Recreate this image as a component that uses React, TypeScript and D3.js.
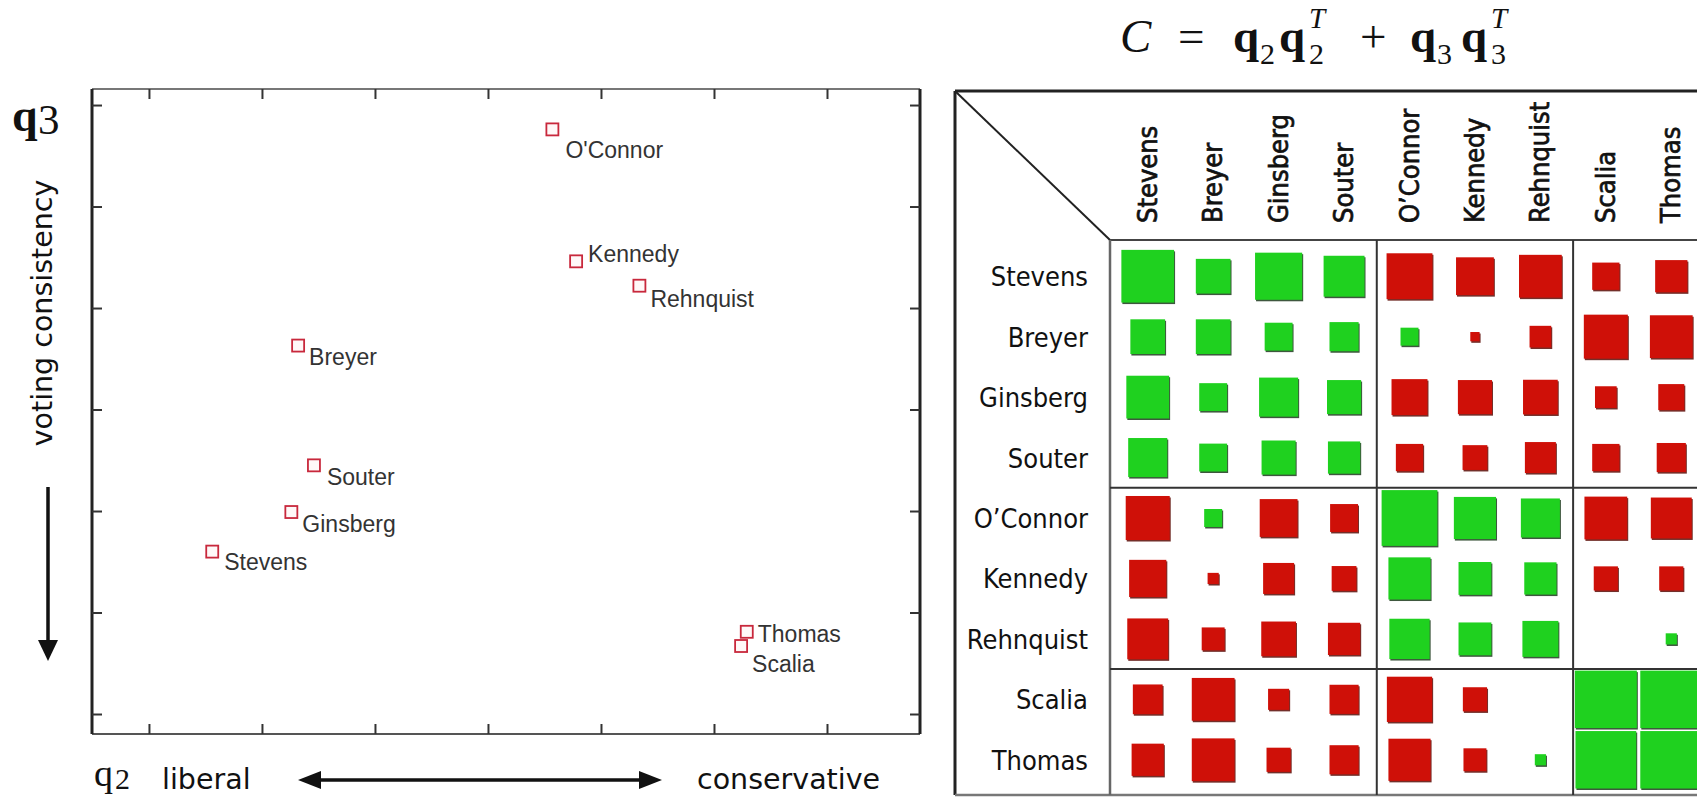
import React, { useEffect, useRef } from 'react'
import * as d3 from 'd3'

// justices as they appear in the scatter plot
const scatterNames = ['Stevens', 'Breyer', 'Ginsberg', 'Souter', "O'Connor", 'Kennedy', 'Rehnquist', 'Scalia', 'Thomas']
// coordinates on the two eigenvectors
const q2Values = [-0.244, -0.168, -0.174, -0.154, 0.057, 0.078, 0.134, 0.224, 0.229]
const q3Values = [-0.140, 0.063, -0.101, -0.055, 0.276, 0.146, 0.122, -0.233, -0.219]

const xTicks = [-0.3, -0.2, -0.1, 0, 0.1, 0.2, 0.3]
const yTicks = [-0.3, -0.2, -0.1, 0, 0.1, 0.2, 0.3]

// matrix order and block boundaries (liberal | swing | conservative)
const matrixNames = ['Stevens', 'Breyer', 'Ginsberg', 'Souter', 'O\u2019Connor', 'Kennedy', 'Rehnquist', 'Scalia', 'Thomas']
const groupStarts = [4, 7]

// C = q2 q2^T + q3 q3^T  (sign -> colour, magnitude -> square size)
const cValues = [
  [0.85, 0.56, 0.76, 0.66, -0.74, -0.61, -0.69, -0.44, -0.52],
  [0.56, 0.56, 0.45, 0.47, 0.29, -0.15, -0.35, -0.71, -0.69],
  [0.69, 0.45, 0.63, 0.55, -0.58, -0.55, -0.56, -0.35, -0.42],
  [0.63, 0.45, 0.55, 0.52, -0.44, -0.40, -0.50, -0.44, -0.47],
  [-0.71, 0.29, -0.61, -0.45, 0.90, 0.68, 0.63, -0.69, -0.66],
  [-0.60, -0.18, -0.50, -0.40, 0.68, 0.53, 0.52, -0.39, -0.39],
  [-0.66, -0.37, -0.56, -0.52, 0.65, 0.53, 0.58, 0, 0.18],
  [-0.48, -0.69, -0.34, -0.47, -0.73, -0.39, 0, 1.0, 1.0],
  [-0.52, -0.69, -0.39, -0.47, -0.68, -0.37, 0.18, 0.98, 1.0]
]

// where each scatter label sits relative to its marker
const labelOffsets: Record<string, [number, number]> = {
  Stevens: [12, 18], Breyer: [11, 19], Ginsberg: [11, 20], Souter: [13, 20],
  "O'Connor": [13, 29], Kennedy: [12, 1], Rehnquist: [11, 21], Scalia: [11, 26], Thomas: [11, 10]
}

const W = 1697
const H = 798
const plot = { left: 92, right: 920, top: 89, bottom: 734 }
const mat = { left: 955, top: 91, bottom: 795, labelCol: 1110, header: 240 }

const GREEN = '#1fd11f'
const RED = '#cf1008'
const serif = "'Liberation Serif', 'Times New Roman', serif"
const sans = "'DejaVu Sans', Verdana, sans-serif"
const condensed = "'DejaVu Sans Condensed', 'DejaVu Sans', sans-serif"

function Scatter() {
  const axesRef = useRef<SVGGElement>(null)

  const x = d3.scaleLinear().domain([-0.3504, 0.3823]).range([plot.left, plot.right])
  const y = d3.scaleLinear().domain([-0.3197, 0.3158]).range([plot.bottom, plot.top])

  useEffect(() => {
    if (!axesRef.current) return
    const g = d3.select(axesRef.current)
    g.selectAll('*').remove()

    const style = (sel: d3.Selection<SVGGElement, unknown, null, undefined>) => {
      sel.select('.domain').remove()
      sel.selectAll('line').attr('stroke', '#333').attr('stroke-width', 2)
    }

    g.append('g')
      .attr('transform', `translate(0,${plot.bottom})`)
      .call(d3.axisBottom(x).tickValues(xTicks).tickSizeInner(-10).tickSizeOuter(0).tickFormat(() => ''))
      .call(style)
    g.append('g')
      .attr('transform', `translate(0,${plot.top})`)
      .call(d3.axisTop(x).tickValues(xTicks).tickSizeInner(-10).tickSizeOuter(0).tickFormat(() => ''))
      .call(style)
    g.append('g')
      .attr('transform', `translate(${plot.left},0)`)
      .call(d3.axisLeft(y).tickValues(yTicks).tickSizeInner(-10).tickSizeOuter(0).tickFormat(() => ''))
      .call(style)
    g.append('g')
      .attr('transform', `translate(${plot.right},0)`)
      .call(d3.axisRight(y).tickValues(yTicks).tickSizeInner(-10).tickSizeOuter(0).tickFormat(() => ''))
      .call(style)
  }, [])

  return (
    <g>
      {/* frame */}
      <line x1={plot.left} x2={plot.right} y1={plot.top} y2={plot.top} stroke="#777" strokeWidth={2} />
      <line x1={plot.left} x2={plot.right} y1={plot.bottom} y2={plot.bottom} stroke="#555" strokeWidth={2} />
      <line x1={plot.left} x2={plot.left} y1={plot.top} y2={plot.bottom} stroke="#222" strokeWidth={3} />
      <line x1={plot.right} x2={plot.right} y1={plot.top} y2={plot.bottom} stroke="#222" strokeWidth={3} />
      <g ref={axesRef} />

      {scatterNames.map((name, i) => {
        const cx = x(q2Values[i])
        const cy = y(q3Values[i])
        const [dx, dy] = labelOffsets[name]
        return (
          <g key={name}>
            <rect x={cx - 6} y={cy - 6} width={12} height={12} fill="#fff8f8" stroke="#c8283c" strokeWidth={1.8} />
            <text x={cx + dx} y={cy + dy} fontFamily="'Liberation Sans', Arial, sans-serif" fontSize={23} fill="#333">
              {name}
            </text>
          </g>
        )
      })}

      {/* q3 axis */}
      <text x={12} y={131} fontFamily={serif} fontSize={46} fontWeight="bold" fill="#111">q</text>
      <text x={38} y={134} fontFamily={serif} fontSize={43} fill="#111">3</text>
      <text transform="translate(52,313) rotate(-90)" textAnchor="middle" fontFamily={sans} fontSize={28.5} fill="#111">
        voting consistency
      </text>
      <line x1={48} x2={48} y1={487} y2={642} stroke="#111" strokeWidth={3.5} />
      <path d="M38,640 L58,640 L48,661 Z" fill="#111" />

      {/* q2 axis */}
      <text x={94} y={786} fontFamily={serif} fontSize={38} fill="#111">q</text>
      <text x={115} y={789} fontFamily={serif} fontSize={30} fill="#111">2</text>
      <text x={162} y={789} fontFamily={sans} fontSize={28.5} fill="#111">liberal</text>
      <line x1={318} x2={642} y1={780} y2={780} stroke="#111" strokeWidth={3.5} />
      <path d="M298,780 L321,771 L321,789 Z" fill="#111" />
      <path d="M662,780 L639,771 L639,789 Z" fill="#111" />
      <text x={697} y={789} fontFamily={sans} fontSize={28.5} fill="#111">conservative</text>
    </g>
  )
}

function Matrix() {
  const xb = d3.scaleBand().domain(matrixNames).range([1115, 1704])
  const yb = d3.scaleBand().domain(matrixNames).range([246, 790])
  const side = d3.scaleLinear().domain([0, 1]).range([0, 62])
  const maxW = xb.bandwidth() - 3
  const maxH = yb.bandwidth() - 3

  const cells = cValues.flatMap((row, r) =>
    row.map((v, c) => ({ r, c, v }))
  ).filter(d => d.v !== 0)

  return (
    <g>
      {/* formula */}
      <g fontFamily={serif} fill="#111">
        <text x={1120} y={52} fontSize={47} fontStyle="italic">C</text>
        <text x={1178} y={52} fontSize={47}>=</text>
        <text x={1233} y={52} fontSize={47} fontWeight="bold">q</text>
        <text x={1260} y={64} fontSize={30}>2</text>
        <text x={1279} y={52} fontSize={47} fontWeight="bold">q</text>
        <text x={1309} y={28} fontSize={29} fontStyle="italic">T</text>
        <text x={1309} y={64} fontSize={30}>2</text>
        <text x={1360} y={52} fontSize={47}>+</text>
        <text x={1410} y={52} fontSize={47} fontWeight="bold">q</text>
        <text x={1437} y={64} fontSize={30}>3</text>
        <text x={1461} y={52} fontSize={47} fontWeight="bold">q</text>
        <text x={1491} y={28} fontSize={29} fontStyle="italic">T</text>
        <text x={1491} y={64} fontSize={30}>3</text>
      </g>

      {/* frame and separators */}
      <line x1={mat.left} x2={W} y1={mat.top} y2={mat.top} stroke="#222" strokeWidth={3} />
      <line x1={mat.left} x2={mat.left} y1={mat.top} y2={mat.bottom} stroke="#222" strokeWidth={3} />
      <line x1={mat.left} x2={W} y1={mat.bottom} y2={mat.bottom} stroke="#777" strokeWidth={2.5} />
      <line x1={mat.left} x2={mat.labelCol} y1={mat.top} y2={mat.header} stroke="#222" strokeWidth={2} />
      <line x1={mat.labelCol} x2={W} y1={mat.header} y2={mat.header} stroke="#444" strokeWidth={2} />
      <line x1={mat.labelCol} x2={mat.labelCol} y1={mat.header} y2={mat.bottom} stroke="#666" strokeWidth={2.5} />
      {groupStarts.map(g => {
        const gx = xb(matrixNames[g]) as number
        const gy = yb(matrixNames[g]) as number
        return (
          <g key={g}>
            <line x1={gx} x2={gx} y1={mat.header} y2={mat.bottom} stroke="#333" strokeWidth={2} />
            <line x1={mat.labelCol} x2={W} y1={gy} y2={gy} stroke="#333" strokeWidth={2} />
          </g>
        )
      })}

      {/* column headers */}
      {matrixNames.map(n => {
        const cx = (xb(n) as number) + xb.bandwidth() / 2
        return (
          <text key={'h' + n} transform={`translate(${cx + 9},223) rotate(-90)`} fontFamily={condensed}
            fontStretch="condensed" fontSize={27} fill="#111" stroke="#111" strokeWidth={0.7}>
            {n}
          </text>
        )
      })}

      {/* row labels */}
      {matrixNames.map(n => {
        const cy = (yb(n) as number) + yb.bandwidth() / 2
        return (
          <text key={'r' + n} x={1088} y={cy + 10} textAnchor="end" fontFamily={condensed}
            fontStretch="condensed" fontSize={27} fill="#111">
            {n}
          </text>
        )
      })}

      {/* squares */}
      {cells.map(({ r, c, v }) => {
        const cx = (xb(matrixNames[c]) as number) + xb.bandwidth() / 2
        const cy = (yb(matrixNames[r]) as number) + yb.bandwidth() / 2
        const w = Math.min(side(Math.abs(v)), maxW)
        const h = Math.min(side(Math.abs(v)), maxH)
        const fill = v > 0 ? GREEN : RED
        const shade = v > 0 ? '#1c3a1c' : '#5a0a05'
        return (
          <g key={r + '-' + c}>
            <rect x={cx - w / 2 + 1} y={cy - h / 2 + 1.5} width={w} height={h} fill={shade} opacity={0.85} />
            <rect x={cx - w / 2} y={cy - h / 2} width={w} height={h} fill={fill} />
          </g>
        )
      })}
    </g>
  )
}

export default function App() {
  return (
    <>
      <style>{'body{margin:0;background:#fff}'}</style>
      <svg width={W} height={H} viewBox={`0 0 ${W} ${H}`} style={{ display: 'block', background: '#fff' }}>
        <Scatter />
        <Matrix />
      </svg>
    </>
  )
}
